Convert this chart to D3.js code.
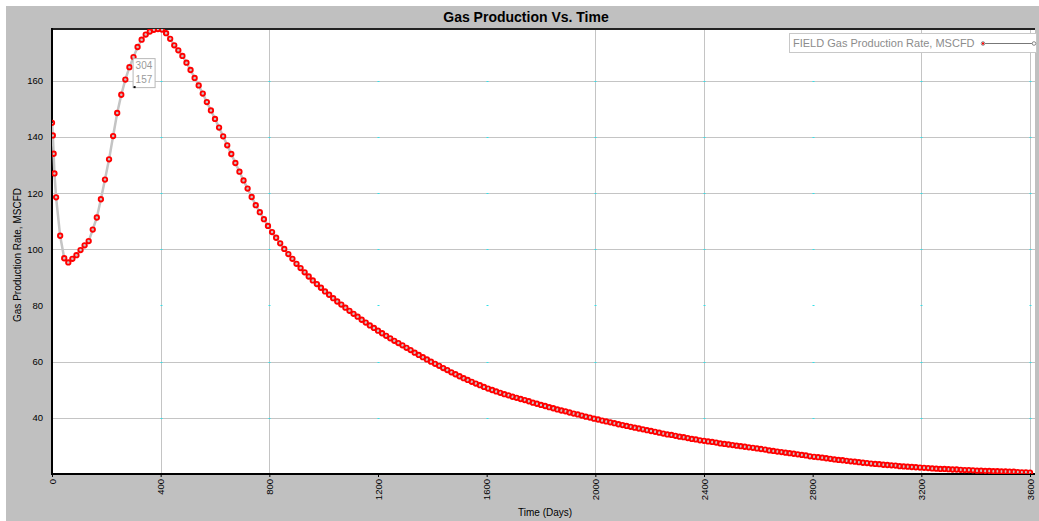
<!DOCTYPE html>
<html>
<head>
<meta charset="utf-8">
<script src="https://cdn.jsdelivr.net/npm/d3@7"></script>
<style>
  body { margin: 0; background: #fff; }
  svg { display: block; font-family: "Liberation Sans", Arial, sans-serif; }
</style>
</head>
<body>
<script>
// Gas production vs time

const chartTitle = "Gas Production Vs. Time";
const seriesName = "FIELD Gas Production Rate, MSCFD";
const xTitle = "Time (Days)";
const yTitle = "Gas Production Rate, MSCFD";

const xTicks = [0, 400, 800, 1200, 1600, 2000, 2400, 2800, 3200, 3600];
const yTicks = [40, 60, 80, 100, 120, 140, 160];
// grid lines that do not show in the original screenshot
const hiddenGridX = [1200, 1600, 2800];
const hiddenGridY = [80];

// the marker label shown on the curve
const pointLabel = [304, 157];

const days = [
  0, 3, 6, 9, 15, 30, 45, 60, 75, 90, 105, 120,
  135, 150, 165, 180, 195, 210, 225, 240, 255, 270, 285, 300,
  315, 330, 345, 360, 375, 390, 405, 420, 435, 450, 465, 480,
  495, 510, 525, 540, 555, 570, 585, 600, 615, 630, 645, 660,
  675, 690, 705, 720, 735, 750, 765, 780, 795, 810, 825, 840,
  855, 870, 885, 900, 915, 930, 945, 960, 975, 990, 1005, 1020,
  1035, 1050, 1065, 1080, 1095, 1110, 1125, 1140, 1155, 1170, 1185, 1200,
  1215, 1230, 1245, 1260, 1275, 1290, 1305, 1320, 1335, 1350, 1365, 1380,
  1395, 1410, 1425, 1440, 1455, 1470, 1485, 1500, 1515, 1530, 1545, 1560,
  1575, 1590, 1605, 1620, 1635, 1650, 1665, 1680, 1695, 1710, 1725, 1740,
  1755, 1770, 1785, 1800, 1815, 1830, 1845, 1860, 1875, 1890, 1905, 1920,
  1935, 1950, 1965, 1980, 1995, 2010, 2025, 2040, 2055, 2070, 2085, 2100,
  2115, 2130, 2145, 2160, 2175, 2190, 2205, 2220, 2235, 2250, 2265, 2280,
  2295, 2310, 2325, 2340, 2355, 2370, 2385, 2400, 2415, 2430, 2445, 2460,
  2475, 2490, 2505, 2520, 2535, 2550, 2565, 2580, 2595, 2610, 2625, 2640,
  2655, 2670, 2685, 2700, 2715, 2730, 2745, 2760, 2775, 2790, 2805, 2820,
  2835, 2850, 2865, 2880, 2895, 2910, 2925, 2940, 2955, 2970, 2985, 3000,
  3015, 3030, 3045, 3060, 3075, 3090, 3105, 3120, 3135, 3150, 3165, 3180,
  3195, 3210, 3225, 3240, 3255, 3270, 3285, 3300, 3315, 3330, 3345, 3360,
  3375, 3390, 3405, 3420, 3435, 3450, 3465, 3480, 3495, 3510, 3525, 3540,
  3555, 3570, 3585, 3600
];

const gasRate = [
  145.0, 140.5, 134.0, 127.0, 118.5, 104.8, 96.8, 95.3, 96.6, 97.9, 99.7, 101.4,
  102.9, 107.0, 111.3, 117.8, 124.8, 132.0, 140.3, 148.5, 155.0, 160.4, 164.8, 168.4,
  172.0, 174.6, 176.4, 177.5, 178.1, 178.4, 178.2, 176.9, 174.9, 172.6, 170.8, 168.8,
  166.4, 163.8, 161.0, 158.3, 155.4, 152.4, 149.4, 146.4, 143.3, 140.2, 137.0, 133.9,
  130.7, 127.6, 124.5, 121.6, 118.6, 115.7, 113.2, 110.7, 108.3, 106.1, 104.1, 102.1,
  100.1, 98.3, 96.6, 94.8, 93.3, 91.8, 90.3, 88.9, 87.6, 86.3, 85.0, 83.8,
  82.6, 81.4, 80.3, 79.2, 78.1, 77.0, 76.0, 74.9, 73.9, 72.9, 72.0, 71.0,
  70.1, 69.2, 68.3, 67.4, 66.6, 65.8, 64.9, 64.1, 63.2, 62.4, 61.6, 60.8,
  60.0, 59.2, 58.5, 57.7, 57.0, 56.2, 55.5, 54.8, 54.1, 53.5, 52.8, 52.2,
  51.6, 51.0, 50.4, 49.9, 49.4, 48.9, 48.4, 48.0, 47.5, 47.1, 46.7, 46.3,
  45.9, 45.4, 45.0, 44.6, 44.2, 43.8, 43.4, 43.0, 42.6, 42.3, 41.9, 41.5,
  41.2, 40.8, 40.4, 40.1, 39.7, 39.4, 39.0, 38.7, 38.4, 38.1, 37.7, 37.4,
  37.1, 36.8, 36.5, 36.2, 35.9, 35.6, 35.3, 35.0, 34.7, 34.4, 34.1, 33.9,
  33.6, 33.3, 33.1, 32.8, 32.5, 32.3, 32.0, 31.8, 31.6, 31.4, 31.2, 30.9,
  30.7, 30.5, 30.3, 30.1, 29.9, 29.7, 29.5, 29.3, 29.1, 28.9, 28.7, 28.4,
  28.2, 28.0, 27.8, 27.6, 27.4, 27.2, 27.0, 26.8, 26.6, 26.3, 26.1, 26.0,
  25.8, 25.6, 25.4, 25.2, 25.0, 24.9, 24.7, 24.5, 24.4, 24.2, 24.0, 23.9,
  23.7, 23.6, 23.5, 23.3, 23.2, 23.1, 23.0, 22.8, 22.7, 22.6, 22.5, 22.4,
  22.3, 22.2, 22.1, 22.0, 21.9, 21.8, 21.8, 21.7, 21.6, 21.6, 21.5, 21.4,
  21.4, 21.3, 21.2, 21.2, 21.1, 21.1, 21.0, 21.0, 20.9, 20.9, 20.8, 20.8,
  20.7, 20.6, 20.6, 20.5
];

let margin = null, width = null, height = null;
let svg = null;
let x, y = null;

const data = days.map((d, i) => ({day: d, rate: gasRate[i]}));

setupCanvasSize();
appendSvg("body");
setupScales();
appendGrid();
appendAxes();
appendSeries();
appendPointLabel();
appendLegend();

function setupCanvasSize() {
  margin = {top: 29, left: 52, bottom: 47, right: 9};
  width = 1039 - margin.left - margin.right;
  height = 521 - margin.top - margin.bottom;
}

function appendSvg(domElement) {
  const root = d3.select(domElement).append("svg")
    .attr("width", 1039)
    .attr("height", 521);

  // grey panel behind everything
  root.append("rect")
    .attr("x", 6).attr("y", 6)
    .attr("width", 1033).attr("height", 515)
    .attr("fill", "#c0c0c0");

  root.append("text")
    .attr("x", 526).attr("y", 22)
    .attr("text-anchor", "middle")
    .style("font-size", "14px")
    .style("font-weight", "bold")
    .text(chartTitle);

  root.append("text")
    .attr("x", 518).attr("y", 516)
    .style("font-size", "10px")
    .text(xTitle);

  root.append("text")
    .attr("transform", "translate(21, 255) rotate(-90)")
    .attr("text-anchor", "middle")
    .style("font-size", "10px")
    .text(yTitle);

  svg = root.append("g")
    .attr("transform", `translate(${margin.left}, ${margin.top})`);

  svg.append("rect")
    .attr("width", width + 5).attr("height", height)
    .attr("fill", "#fff");

  svg.append("clipPath").attr("id", "plot-clip")
    .append("rect").attr("width", width + 5).attr("height", height);
}

function setupScales() {
  x = d3.scaleLinear().domain([0, 3600]).range([0, width]);
  y = d3.scaleLinear().domain([20, 178.4]).range([height, 0]);
}

function appendGrid() {
  const g = svg.append("g");

  g.selectAll(".vgrid")
    .data(xTicks.filter(d => d > 0 && !hiddenGridX.includes(d)))
    .enter().append("line")
    .attr("x1", d => Math.round(x(d)) + 0.5).attr("x2", d => Math.round(x(d)) + 0.5)
    .attr("y1", 0).attr("y2", height)
    .attr("stroke", "#c4c4c4");

  g.selectAll(".hgrid")
    .data(yTicks.filter(d => !hiddenGridY.includes(d)))
    .enter().append("line")
    .attr("x1", 0).attr("x2", width + 5)
    .attr("y1", d => Math.round(y(d)) + 0.5).attr("y2", d => Math.round(y(d)) + 0.5)
    .attr("stroke", "#c4c4c4");

  // little cyan points at each grid crossing
  const cross = [];
  xTicks.filter(d => d > 0).forEach(a => yTicks.forEach(b => cross.push([a, b])));
  g.selectAll(".cross")
    .data(cross)
    .enter().append("rect")
    .attr("x", d => Math.round(x(d[0])) - 0.5).attr("y", d => Math.round(y(d[1])))
    .attr("width", 2).attr("height", 1)
    .attr("fill", "#33e0e8");
}

function appendAxes() {
  const xAxis = svg.append("g")
    .attr("transform", `translate(0, ${height})`)
    .call(d3.axisBottom(x).tickValues(xTicks).tickSize(3).tickFormat(d3.format("d")));
  xAxis.select(".domain").remove();
  xAxis.selectAll("line").attr("stroke", "#000");
  xAxis.selectAll("text")
    .attr("transform", "rotate(-90)")
    .attr("x", -5).attr("y", 0).attr("dy", "0.32em")
    .style("text-anchor", "end")
    .style("font-size", "9.5px")
    .style("font-family", "'Liberation Sans', Arial, sans-serif");

  const yAxis = svg.append("g")
    .call(d3.axisLeft(y).tickValues(yTicks).tickSize(0).tickPadding(9));
  yAxis.select(".domain").remove();
  yAxis.selectAll("text")
    .style("font-size", "9.5px")
    .style("font-family", "'Liberation Sans', Arial, sans-serif");

  // frame: dark left, bottom and top edges
  svg.append("line").attr("x1", 0).attr("x2", width + 5).attr("y1", 0).attr("y2", 0)
    .attr("stroke", "#222").attr("stroke-width", 2);
  svg.append("line").attr("x1", 0).attr("x2", width + 5).attr("y1", height).attr("y2", height)
    .attr("stroke", "#000").attr("stroke-width", 2);
  svg.append("line").attr("x1", 0).attr("x2", 0).attr("y1", -1).attr("y2", height + 1)
    .attr("stroke", "#000").attr("stroke-width", 2);
}

function appendSeries() {
  const g = svg.append("g").attr("clip-path", "url(#plot-clip)");

  const line = d3.line()
    .x(d => x(d.day))
    .y(d => y(d.rate));

  g.append("path")
    .datum(data)
    .attr("d", line)
    .attr("fill", "none")
    .attr("stroke", "#c4c4c4")
    .attr("stroke-width", 2.5);

  g.selectAll(".pt")
    .data(data)
    .enter().append("circle")
    .attr("cx", d => x(d.day))
    .attr("cy", d => y(d.rate))
    .attr("r", 2.2)
    .attr("fill", "none")
    .attr("stroke", "#ff0000")
    .attr("stroke-width", 1.9);
}

function appendPointLabel() {
  const px = x(pointLabel[0]), py = y(pointLabel[1]);
  const g = svg.append("g").attr("transform", `translate(${px}, ${py})`);
  g.append("rect")
    .attr("x", -1.5).attr("y", -30.5)
    .attr("width", 22).attr("height", 29)
    .attr("fill", "#fff").attr("stroke", "#b8b8b8");
  g.append("text").attr("x", 1).attr("y", -20)
    .style("font-size", "10px").attr("fill", "#9a9a9a")
    .text(pointLabel[0]);
  g.append("text").attr("x", 1).attr("y", -6)
    .style("font-size", "10px").attr("fill", "#9a9a9a")
    .text(pointLabel[1]);
  g.append("rect").attr("x", -1).attr("y", -3).attr("width", 2).attr("height", 2).attr("fill", "#000");
}

function appendLegend() {
  const g = svg.append("g").attr("transform", `translate(${789 - margin.left}, ${33 - margin.top})`);
  g.append("rect")
    .attr("x", 0.5).attr("y", 0.5)
    .attr("width", 247).attr("height", 19)
    .attr("fill", "#fff").attr("stroke", "#c8c8c8");
  g.append("text")
    .attr("x", 4).attr("y", 14)
    .style("font-size", "11px")
    .attr("fill", "#8c8c8c")
    .text(seriesName);
  g.append("line")
    .attr("x1", 194).attr("x2", 245).attr("y1", 10.5).attr("y2", 10.5)
    .attr("stroke", "#777");
  g.selectAll(".lm")
    .data([194, 245])
    .enter().append("circle")
    .attr("cx", d => d).attr("cy", 10.5).attr("r", 1.8)
    .attr("fill", "#fff").attr("stroke", "#888");
  g.append("rect").attr("x", 193).attr("y", 9.5).attr("width", 2).attr("height", 2).attr("fill", "#f00");
}
</script>
</body>
</html>
